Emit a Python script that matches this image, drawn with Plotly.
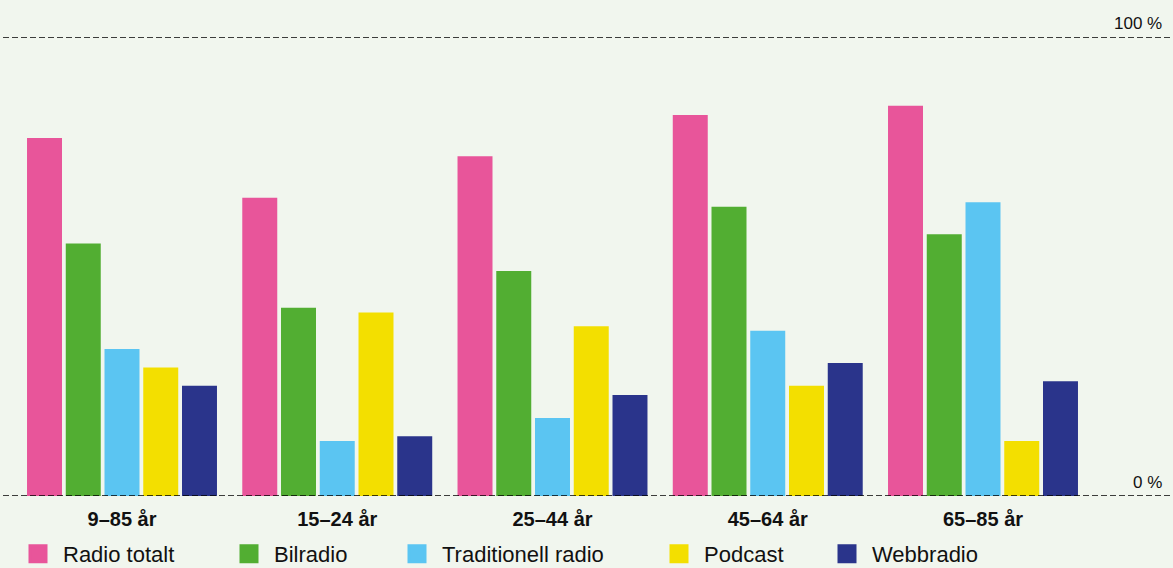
import plotly.graph_objects as go

categories = ["9–85 år", "15–24 år", "25–44 år", "45–64 år", "65–85 år"]
series_names = ["Radio totalt", "Bilradio", "Traditionell radio", "Podcast", "Webbradio"]
radio_totalt = [78, 65, 74, 83, 85]
bilradio = [55, 41, 49, 63, 57]
traditionell_radio = [32, 12, 17, 36, 64]
podcast = [28, 40, 37, 24, 12]
webbradio = [24, 13, 22, 29, 25]
colors = ["#E8559A", "#52AE32", "#5BC5F2", "#F3DF00", "#2A348B"]
y_tick_labels = ["0 %", "100 %"]

values = [radio_totalt, bilradio, traditionell_radio, podcast, webbradio]

W, H = 1173, 568
mt, mb = 37, 72
plot_h = H - mt - mb

fig = go.Figure()
for name, vals, col in zip(series_names, values, colors):
    fig.add_trace(go.Bar(x=categories, y=vals, name=name, marker=dict(color=col, line=dict(width=0)),
                         showlegend=False))

# legend entries (one legend each to place them like the reference)
legend_centers = [38, 249, 417, 679, 847]
legend_ids = ["legend", "legend2", "legend3", "legend4", "legend5"]
for name, col, lid in zip(series_names, colors, legend_ids):
    fig.add_trace(go.Scatter(x=[None], y=[None], mode="markers", name=name, legend=lid,
                             marker=dict(symbol="square", size=16, color=col, line=dict(color=col, width=3)),
                             showlegend=True))

leg_y = (H - mb - 554) / plot_h
legend_font = dict(family="Liberation Sans, Arial, sans-serif", size=22, color="#111111")
layout_legends = {}
for lid, cx in zip(legend_ids, legend_centers):
    layout_legends[lid] = dict(x=(cx - 25) / W, xanchor="left", y=leg_y, yanchor="middle",
                               orientation="h", bgcolor="rgba(0,0,0,0)", borderwidth=0,
                               font=legend_font, itemclick=False, itemdoubleclick=False,
                               tracegroupgap=0, itemwidth=40)

# x range chosen so groups sit at reference positions
c0 = 122.0
pitch = 215.25
xr = [-c0 / pitch, (W - c0) / pitch]

fig.update_layout(
    width=W, height=H,
    margin=dict(l=0, r=0, t=mt, b=mb, pad=0, autoexpand=False),
    paper_bgcolor="#F1F6EE", plot_bgcolor="#F1F6EE",
    barmode="group", bargap=0.1, bargroupgap=0.097,
    font=dict(family="Liberation Sans, Arial, sans-serif", color="#111111"),
    xaxis=dict(range=xr, showgrid=False, zeroline=False, showline=False, ticks="",
               tickfont=dict(family="Liberation Sans, Arial, sans-serif", size=20, color="#111111", weight="bold"),
               ticklabelstandoff=9, automargin=False),
    yaxis=dict(range=[0, 100], showgrid=False, zeroline=False, showline=False, showticklabels=False,
               ticks="", automargin=False),
    showlegend=True,
    **layout_legends,
)

for yv, lab in zip([0, 100], y_tick_labels):
    fig.add_shape(type="line", xref="paper", yref="y", x0=3 / W, x1=1.0, y0=yv, y1=yv,
                  line=dict(color="#000000", width=1.6, dash="6px,3px"), layer="above")
    fig.add_annotation(xref="paper", yref="y", x=1164 / W, y=yv, xanchor="right", yanchor="bottom",
                       text=lab, showarrow=False, yshift=2,
                       font=dict(family="Liberation Sans, Arial, sans-serif", size=17, color="#111111"))

fig.write_html("out.html")
